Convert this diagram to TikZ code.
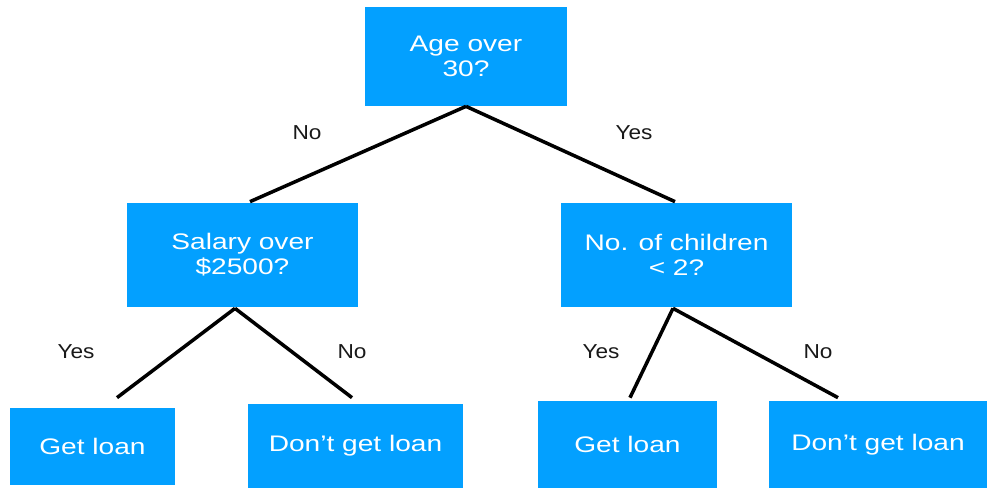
\documentclass[tikz,border=0pt]{standalone}
\usepackage{fontspec}
\usepackage{xcolor}
\usepackage{tikz}
\usetikzlibrary{positioning}
\newfontfamily\boxfont{Liberation Sans}[FakeStretch=1.25]
\newfontfamily\lblfont{Liberation Sans}[FakeStretch=1.12]
\definecolor{treeblue}{RGB}{3, 160, 255}
\definecolor{lbltext}{RGB}{25, 25, 25}

\begin{document}
\begin{tikzpicture}[
  x=0.02cm, y=-0.02cm,
  box/.style={rectangle, fill=treeblue, draw=none, inner sep=0pt,
              align=center, text=white,
              font=\boxfont\fontsize{12.8}{14.2}\selectfont},
  lbl/.style={font=\lblfont\fontsize{11.5}{13}\selectfont, text=lbltext},
  branch/.style={line width=2pt, black}
]
\useasboundingbox (0,0) rectangle (987,488);

% root
\node[box, minimum width=202*0.02cm, minimum height=99*0.02cm] (age) at (466,56.5) {Age over\\30?};

% second level
\node[box, minimum width=231*0.02cm, minimum height=104*0.02cm] (salary) at (242.5,255) {Salary over\\\$2500?};
\node[box, minimum width=231*0.02cm, minimum height=104*0.02cm] (kids) at (676.5,255) {No. of children\\< 2?};

% leaves
\node[box, minimum width=165*0.02cm, minimum height=77*0.02cm] (loanA) at (92.5,446.5) {Get loan};
\node[box, minimum width=215*0.02cm, minimum height=84*0.02cm] (noloanA) at (355.5,446) {Don’t get loan};
\node[box, minimum width=179*0.02cm, minimum height=87*0.02cm] (loanB) at (627.5,444.5) {Get loan};
\node[box, minimum width=218*0.02cm, minimum height=87*0.02cm] (noloanB) at (878,444.5) {Don’t get loan};

% branch ends
\coordinate (salaryTop) at ([shift={(7.5,-1)}]salary.north);
\coordinate (kidsTop) at ([shift={(-1.5,-1)}]kids.north);
\coordinate (salaryFoot) at ([shift={(-7.5,1)}]salary.south);
\coordinate (kidsFoot) at ([shift={(-3.5,1)}]kids.south);
\coordinate (loanAEnd) at ([shift={(24.5,-10)}]loanA.north);
\coordinate (noloanAEnd) at ([shift={(-3.5,-6)}]noloanA.north);
\coordinate (loanBEnd) at ([shift={(2.5,-3)}]loanB.north);
\coordinate (noloanBEnd) at ([shift={(-40,-3)}]noloanB.north);

% branches
\draw[branch] (age.south) -- (salaryTop);
\draw[branch] (age.south) -- (kidsTop);
\draw[branch] (salaryFoot) -- (loanAEnd);
\draw[branch] (salaryFoot) -- (noloanAEnd);
\draw[branch] (kidsFoot) -- (loanBEnd);
\draw[branch] (kidsFoot) -- (noloanBEnd);

% branch labels
\node[lbl] (ageNo) at (307,133) {No};
\node[lbl] (ageYes) at (634,133) {Yes};
\node[lbl] (salaryYes) at (76,352) {Yes};
\node[lbl] (salaryNo) at (352,352) {No};
\node[lbl] (kidsYes) at (601,352) {Yes};
\node[lbl] (kidsNo) at (818,352) {No};

\end{tikzpicture}
\end{document}
